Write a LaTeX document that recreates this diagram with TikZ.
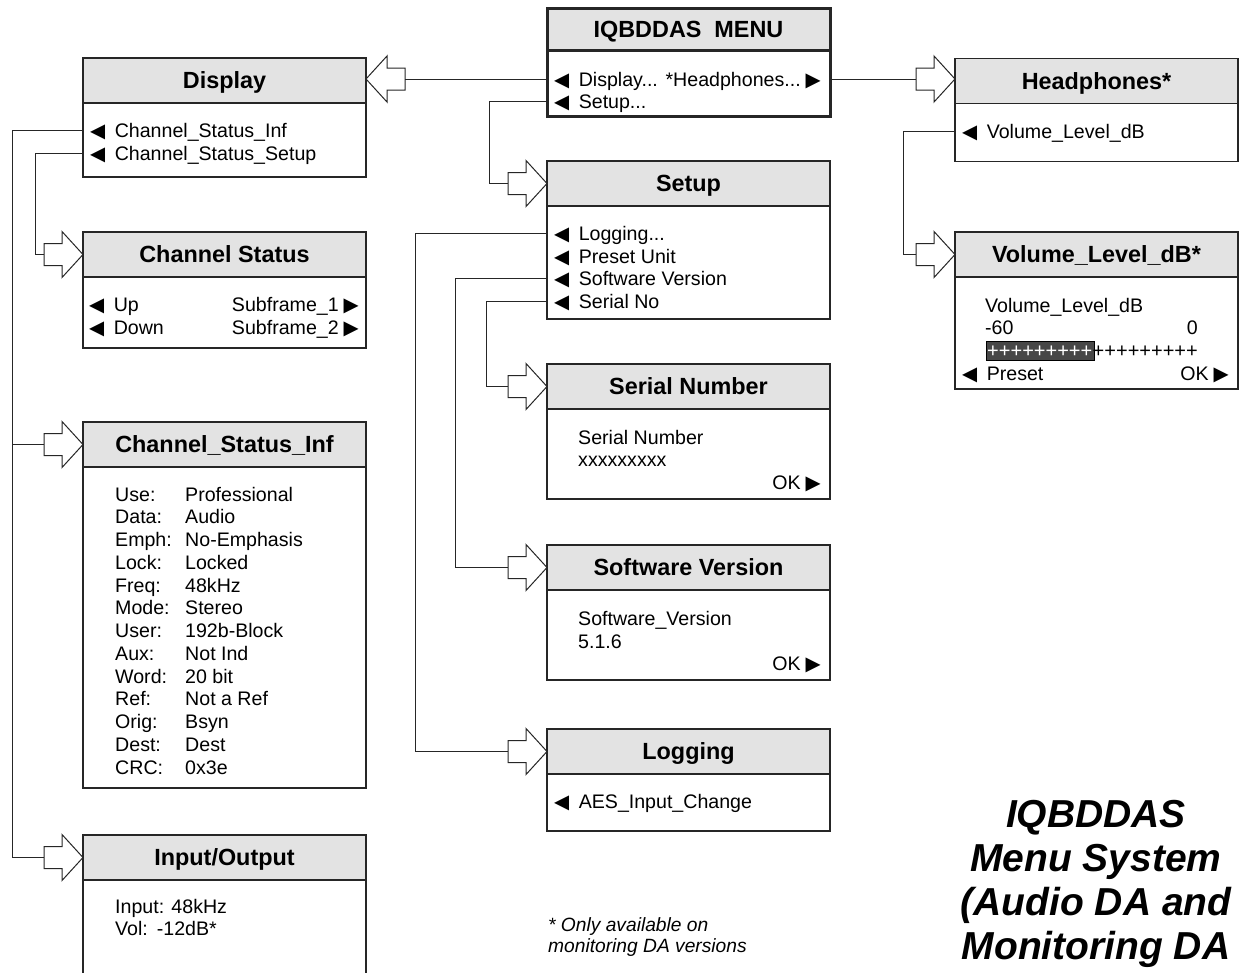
\documentclass[tikz,border=0pt]{standalone}
\usepackage{fontspec}
\setmainfont{Liberation Sans}
\newfontfamily\symfont{DejaVu Sans}
\newcommand\tril{{\symfont ◀}\hspace{9.5pt}}
\newcommand\trir{\hspace{5pt}{\symfont ▶}}
\usetikzlibrary{calc}

\tikzset{
  boxhead/.style={draw=black!85, line width=1.2pt, fill=black!11, minimum width=283pt,
    minimum height=45pt, inner sep=0pt, outer sep=0pt,
    font=\fontsize{23.4}{26}\selectfont\bfseries, text height=16.8pt, text depth=0pt},
  boxbody/.style={draw=black!85, line width=1.2pt, minimum width=283pt, inner sep=0pt,
    outer sep=0pt, anchor=north},
  item/.style={anchor=base west, inner sep=0pt, font=\fontsize{19.6}{22}\selectfont,
    text height=14pt, text depth=0pt},
  itemr/.style={item, anchor=base east},
  link/.style={draw=black!85, line width=1pt},
  feed/.pic={\draw[draw=black!85, line width=1pt, fill=white]
    (0,0) -- (-21,-23) -- (-21,-11) -- (-39,-11) -- (-39,11) -- (-21,11) -- (-21,23) -- cycle;},
}

\begin{document}
\begin{tikzpicture}[x=1pt, y=-1pt]
  \useasboundingbox (0,0) rectangle (1241,972);

  % Channel status fields
  \def\FieldList{Use:/Professional, Data:/Audio, Emph:/No-Emphasis, Lock:/Locked,
    Freq:/48kHz, Mode:/Stereo, User:/192b-Block, Aux:/Not Ind, Word:/20 bit,
    Ref:/Not a Ref, Orig:/Bsyn, Dest:/Dest, CRC:/0x3e}
  \def\rowStep{22.75}

  % Main menu
  \node[boxhead, line width=3pt, minimum height=42pt] (mnuH) at (688.5,29) {IQBDDAS\ \ MENU};
  \node[boxbody, line width=3pt, minimum height=66pt] (mnuB) at (mnuH.south) {};
  \node[item] (mDisp) at (554,86) {\tril Display...};
  \node[itemr] (mHp) at (821,86) {*Headphones...\trir};
  \node[item] (mSet) at (554,108) {\tril Setup...};

  % Display
  \node[boxhead] (dispH) at (224.5,80.5) {Display};
  \node[boxbody, minimum height=74pt] (dispB) at (dispH.south) {};
  \node[item] (dInf) at (90,137) {\tril Channel\_Status\_Inf};
  \node[item] (dSet) at (90,160) {\tril Channel\_Status\_Setup};

  % Channel Status
  \node[boxhead] (csH) at (224.5,254.5) {Channel Status};
  \node[boxbody, minimum height=71pt] (csB) at (csH.south) {};
  \node[item] (csUp) at (89,311) {\tril Up};
  \node[item] (csDown) at (89,334) {\tril Down};
  \node[itemr] (csSub1) at (359,311) {Subframe\_1\trir};
  \node[itemr] (csSub2) at (359,334) {Subframe\_2\trir};

  % Channel_Status_Inf
  \node[boxhead] (csiH) at (224.5,444.5) {Channel\_Status\_Inf};
  \node[boxbody, minimum height=321pt] (csiB) at (csiH.south) {};
  \foreach \lab/\val [count=\i from 0] in \FieldList
    {\node[item] (csiL\i) at (115,501+\rowStep*\i) {\lab};
     \node[item] (csiV\i) at (185,501+\rowStep*\i) {\val};}

  % Input/Output
  \node[boxhead] (ioH) at (224.5,857.5) {Input/Output};
  \node[boxbody, minimum height=130pt] (ioB) at (ioH.south) {};
  \node[item] (ioIn) at (115,913) {Input: 48kHz};
  \node[item] (ioVol) at (115,935) {Vol:\hspace{9pt}-12dB*};

  % Setup
  \node[boxhead] (setH) at (688.5,183.5) {Setup};
  \node[boxbody, minimum height=113pt] (setB) at (setH.south) {};
  \node[item] (sLog) at (554,240) {\tril Logging...};
  \node[item] (sPre) at (554,263) {\tril Preset Unit};
  \node[item] (sSw) at (554,285) {\tril Software Version};
  \node[item] (sSn) at (554,308) {\tril Serial No};

  % Serial Number
  \node[boxhead] (snH) at (688.5,386.5) {Serial Number};
  \node[boxbody, minimum height=90pt] (snB) at (snH.south) {};
  \node[item] (snTxt) at (578,444) {Serial Number};
  \node[item] (snVal) at (578,466) {xxxxxxxxx};
  \node[itemr] (snOk) at (821,489) {OK\trir};

  % Software Version
  \node[boxhead] (swH) at (688.5,567.5) {Software Version};
  \node[boxbody, minimum height=90pt] (swB) at (swH.south) {};
  \node[item] (swTxt) at (578,625) {Software\_Version};
  \node[item] (swVal) at (578,648) {5.1.6};
  \node[itemr] (swOk) at (821,670) {OK\trir};

  % Logging
  \node[boxhead] (logH) at (688.5,751.5) {Logging};
  \node[boxbody, minimum height=57pt] (logB) at (logH.south) {};
  \node[item] (logAes) at (554,808) {\tril AES\_Input\_Change};

  % Headphones
  \node[boxhead] (hpH) at (1096.5,81) {Headphones*};
  \node[boxbody, minimum height=58pt] (hpB) at (hpH.south) {};
  \node[item] (hVol) at (962,138) {\tril Volume\_Level\_dB};

  % Volume_Level_dB
  \node[boxhead] (volH) at (1096.5,254.5) {Volume\_Level\_dB*};
  \node[boxbody, minimum height=112pt] (volB) at (volH.south) {};
  \node[item] (vTxt) at (985,312) {Volume\_Level\_dB};
  \node[item] (vMin) at (985,334) {-60};
  \node[itemr] (vMax) at (1198,334) {0};
  \node[draw=black, fill=black!72, minimum width=108pt, minimum height=19pt, inner sep=0pt,
    outer sep=0pt, anchor=north west] (bar) at (986,341) {};
  \node[item, text=white, font=\fontsize{20}{22}\selectfont] (barOn) at (987,357) {+++++++++};
  \node[item, font=\fontsize{20}{22}\selectfont] (barOff) at (barOn.base east) {+++++++++};
  \node[item] (vPre) at (962,380) {\tril Preset};
  \node[itemr] (vOk) at (1229,380) {OK\trir};

  % Block arrows
  \foreach \b in {cs,csi,io,set,sn,sw,log,vol}
    {\pic at (\b H.west) {feed};
     \coordinate (\b Tail) at ($(\b H.west)+(-39,0)$);}
  \pic[rotate=180] at (dispH.east |- mDisp) {feed};
  \coordinate (dispTail) at ($(dispH.east |- mDisp)+(39,0)$);
  \pic at (hpH.west |- mHp) {feed};
  \coordinate (hpTail) at ($(hpH.west |- mHp)+(-39,0)$);

  % Connectors
  \draw[link] (mnuB.west |- mDisp) -- (dispTail);
  \draw[link] (mnuB.west |- mSet) -- ++(-58,0) |- (setTail);
  \draw[link] (mnuB.east |- mHp) -- (hpTail);
  \draw[link] (dispB.west |- dInf) -- ++(-71,0) coordinate (trunk) |- (ioTail);
  \draw[link] (trunk |- csiTail) -- (csiTail);
  \draw[link] (dispB.west |- dSet) -- ++(-48,0) |- (csTail);
  \draw[link] (setB.west |- sLog) -- ++(-132,0) |- (logTail);
  \draw[link] (setB.west |- sSw) -- ++(-92,0) |- (swTail);
  \draw[link] (setB.west |- sSn) -- ++(-61,0) |- (snTail);
  \draw[link] (hpB.west |- hVol) -- ++(-52,0) |- (volTail);

  % Notes
  \node[item, font=\fontsize{19.2}{21}\selectfont\itshape] (note1) at (548,931) {* Only available on};
  \node[item, font=\fontsize{19.2}{21}\selectfont\itshape] (note2) at (548,952) {monitoring DA versions};
  \foreach \t [count=\i from 0] in {IQBDDAS, Menu System, {(Audio DA and}, Monitoring DA}
    \node[anchor=base, inner sep=0pt, font=\fontsize{39}{44}\selectfont\bfseries\itshape]
      (ttl\i) at (1096,827+44.3*\i) {\t};

\end{tikzpicture}
\end{document}
